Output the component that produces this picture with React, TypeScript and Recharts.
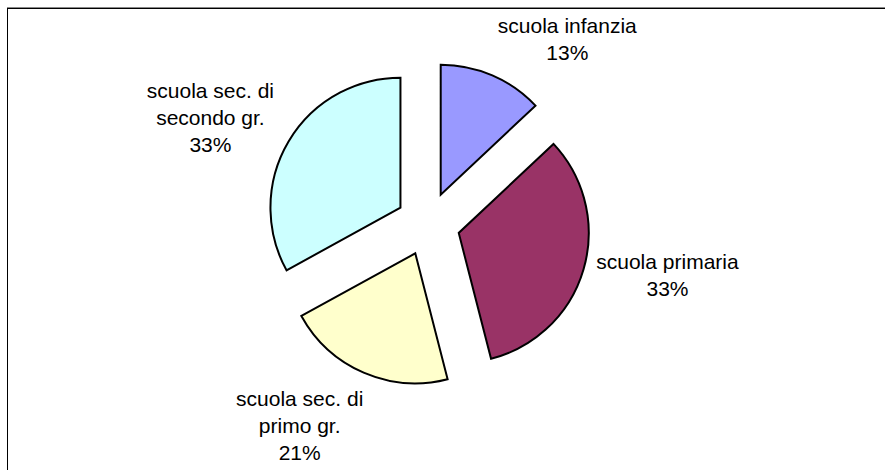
import React from 'react';
import { PieChart, Pie, Cell, Sector } from 'recharts';

const categories = [
  ['scuola infanzia'],
  ['scuola primaria'],
  ['scuola sec. di', 'primo gr.'],
  ['scuola sec. di', 'secondo gr.'],
];
const shares = [13, 33, 21, 33];
const colors = ['#9999FF', '#993366', '#FFFFCC', '#CCFFFF'];

// small nudges so the labels sit where the spreadsheet put them
const labelNudge = [
  [44, 35],
  [9, -16],
  [-33, -19],
  [-11, 16],
];

const RAD = Math.PI / 180;
const EXPLODE = 32;
const LABEL_RADIUS = 240;
const LINE_H = 27;
const FONT = 21;

const data = categories.map((lines, i) => ({
  name: lines.join(' '),
  lines,
  value: shares[i],
}));

const ExplodedSector = (props: any) => {
  const { cx, cy, midAngle } = props;
  const dx = EXPLODE * Math.cos(-midAngle * RAD);
  const dy = EXPLODE * Math.sin(-midAngle * RAD);
  return <Sector {...props} cx={cx + dx} cy={cy + dy} />;
};

const renderLabel = (props: any) => {
  const { cx, cy, midAngle, percent, index } = props;
  const lines: string[] = [...data[index].lines, `${Math.round(percent * 100)}%`];
  const x = cx + LABEL_RADIUS * Math.cos(-midAngle * RAD) + labelNudge[index][0];
  const yc = cy + LABEL_RADIUS * Math.sin(-midAngle * RAD) + labelNudge[index][1];
  const y0 = yc - ((lines.length - 1) * LINE_H) / 2 + FONT * 0.36;
  return (
    <text
      key={`lbl-${index}`}
      x={x}
      y={y0}
      textAnchor="middle"
      fill="#000"
      fontSize={FONT}
      fontFamily="'Liberation Sans', Arial, sans-serif"
    >
      {lines.map((t, i) => (
        <tspan key={i} x={x} y={y0 + i * LINE_H}>
          {t}
        </tspan>
      ))}
    </text>
  );
};

export default function App() {
  return (
    <div
      style={{
        position: 'absolute',
        left: 0,
        top: 0,
        width: 885,
        height: 470,
        overflow: 'hidden',
        background: '#fff',
      }}
    >
      <div
        style={{
          position: 'absolute',
          left: 7,
          top: 7,
          width: 920,
          height: 520,
          borderTop: '1px solid #888',
        }}
      />
      <div
        style={{
          position: 'absolute',
          left: 7,
          top: 8,
          width: 920,
          height: 520,
          borderTop: '1px solid #000',
          borderLeft: '1px solid #000',
        }}
      />
      <div style={{ position: 'absolute', left: 0, top: 0 }}>
        <PieChart width={885} height={470} margin={{ top: 0, right: 0, bottom: 0, left: 0 }}>
          <Pie
            data={data}
            dataKey="value"
            nameKey="name"
            cx={428}
            cy={224}
            outerRadius={130}
            startAngle={90}
            endAngle={-270}
            stroke="#000"
            strokeWidth={2}
            label={renderLabel}
            labelLine={false}
            shape={ExplodedSector}
            isAnimationActive={false}
          >
            {data.map((d, i) => (
              <Cell key={d.name} fill={colors[i]} />
            ))}
          </Pie>
        </PieChart>
      </div>
    </div>
  );
}
